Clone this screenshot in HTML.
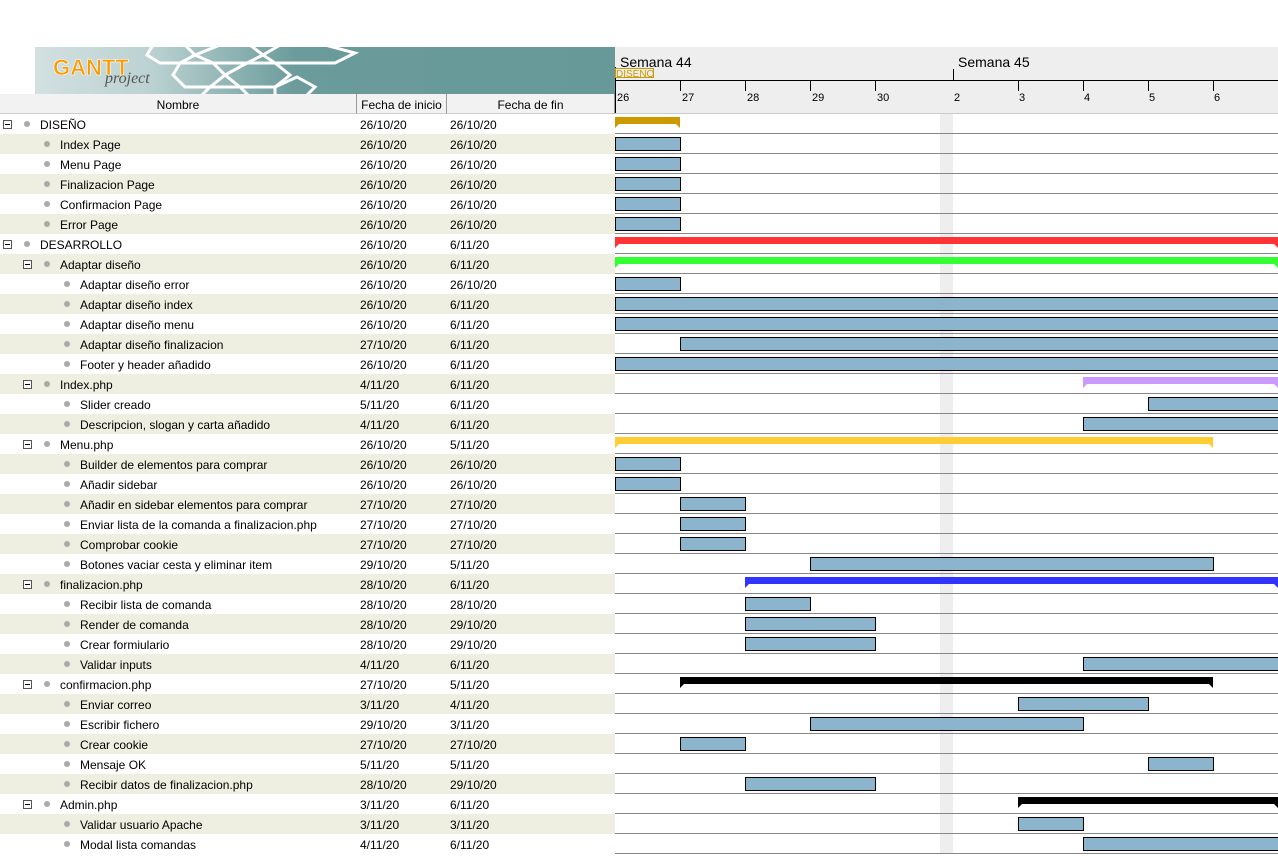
<!DOCTYPE html>
<html><head><meta charset="utf-8"><style>
body{margin:0;width:1278px;height:854px;overflow:hidden;background:#fff;font-family:"Liberation Sans",sans-serif;position:relative}
.r{position:absolute;left:0;width:615px;height:20px;font-size:12px;line-height:22px;color:#000}
.r.b{background:#efefe1}
.r span{position:absolute;white-space:nowrap}
.d1{left:360px}.d2{left:450px}
.ex{position:absolute;top:6px;width:7px;height:7px;border:1px solid #555;background:#fff}
.ex:after{content:"";position:absolute;left:1px;top:3px;width:5px;height:1px;background:#000}
.bu{position:absolute;top:7px;width:6px;height:6px;border-radius:50%;background:#aaa}
.hd{position:absolute;top:94px;height:19px;background:#f2f2f2;border-right:1px solid #999;border-bottom:1px solid #ccc;font-size:12px;line-height:22px;text-align:center}
</style></head><body>
<!-- banner -->
<svg style="position:absolute;left:35px;top:47px" width="580" height="47">
<defs><linearGradient id="g" x1="0" x2="1"><stop offset="0" stop-color="#d2e0e0"/><stop offset="0.2" stop-color="#bcd2d2"/><stop offset="0.45" stop-color="#6b9b9b"/><stop offset="1" stop-color="#679999"/></linearGradient></defs>
<rect width="580" height="47" fill="url(#g)"/>
<g fill="none" stroke="#fff" stroke-width="3">
<polygon points="118,-2 150,-2 160,8 145,16 125,16 112,8"/>
<polygon points="160,8 185,-2 215,-2 228,8 212,16 178,16"/>
<polygon points="228,8 245,-2 290,-2 320,6 300,16 240,16"/>
<polygon points="145,16 178,16 190,28 175,40 150,40 138,28"/>
<polygon points="212,16 240,16 255,28 240,40 205,40 190,28"/>
<polygon points="175,40 205,40 215,50 165,50"/>
<polygon points="240,40 262,30 280,40 270,50 240,50"/>
</g>
<text x="18" y="28" font-family="Liberation Sans" font-weight="bold" font-size="22" fill="#ff9900" stroke="#fff" stroke-width="0.6">GANTT</text>
<text x="70" y="36" font-family="Liberation Serif" font-style="italic" font-size="16" fill="#555">project</text>
</svg>
<div class="hd" style="left:0;width:356px">Nombre</div>
<div class="hd" style="left:357px;width:89px">Fecha de inicio</div>
<div class="hd" style="left:447px;width:167px">Fecha de fin</div>
<!-- chart header -->
<svg style="position:absolute;left:615px;top:47px" width="663" height="67">
<rect width="663" height="67" fill="#eeeeee"/>
<line x1="0" y1="33.5" x2="663" y2="33.5" stroke="#000"/>
<line x1="0.5" y1="20" x2="0.5" y2="67" stroke="#000"/>
<line x1="338.5" y1="22" x2="338.5" y2="33" stroke="#000"/>
<g stroke="#000"><line x1="65.5" y1="34" x2="65.5" y2="44"/><line x1="130.5" y1="34" x2="130.5" y2="44"/><line x1="195.5" y1="34" x2="195.5" y2="44"/><line x1="260.5" y1="34" x2="260.5" y2="44"/><line x1="403.5" y1="34" x2="403.5" y2="44"/><line x1="468.5" y1="34" x2="468.5" y2="44"/><line x1="533.5" y1="34" x2="533.5" y2="44"/><line x1="598.5" y1="34" x2="598.5" y2="44"/></g>
<line x1="0" y1="66.5" x2="663" y2="66.5" stroke="#ccc"/>
<g font-family="Liberation Sans" font-size="14"><text x="5" y="20">Semana 44</text><text x="343" y="20">Semana 45</text></g>
<rect x="0.5" y="21.5" width="38" height="9" fill="none" stroke="#cc9900"/>
<text x="1" y="30" font-family="Liberation Sans" font-size="10" fill="#cc9900">DISEÑO</text>
<g font-family="Liberation Sans" font-size="11"><text x="2" y="54">26</text><text x="67" y="54">27</text><text x="132" y="54">28</text><text x="197" y="54">29</text><text x="262" y="54">30</text><text x="339" y="54">2</text><text x="404" y="54">3</text><text x="469" y="54">4</text><text x="534" y="54">5</text><text x="599" y="54">6</text></g>
</svg>
<!-- chart body -->
<svg style="position:absolute;left:615px;top:114px" width="663" height="740">
<rect x="325" y="0" width="13" height="740" fill="#eeeeee"/>
<g stroke="#888">
<line x1="0" x2="663" y1="19.5" y2="19.5"/><line x1="0" x2="663" y1="39.5" y2="39.5"/><line x1="0" x2="663" y1="59.5" y2="59.5"/><line x1="0" x2="663" y1="79.5" y2="79.5"/><line x1="0" x2="663" y1="99.5" y2="99.5"/><line x1="0" x2="663" y1="119.5" y2="119.5"/><line x1="0" x2="663" y1="139.5" y2="139.5"/><line x1="0" x2="663" y1="159.5" y2="159.5"/><line x1="0" x2="663" y1="179.5" y2="179.5"/><line x1="0" x2="663" y1="199.5" y2="199.5"/><line x1="0" x2="663" y1="219.5" y2="219.5"/><line x1="0" x2="663" y1="239.5" y2="239.5"/><line x1="0" x2="663" y1="259.5" y2="259.5"/><line x1="0" x2="663" y1="279.5" y2="279.5"/><line x1="0" x2="663" y1="299.5" y2="299.5"/><line x1="0" x2="663" y1="319.5" y2="319.5"/><line x1="0" x2="663" y1="339.5" y2="339.5"/><line x1="0" x2="663" y1="359.5" y2="359.5"/><line x1="0" x2="663" y1="379.5" y2="379.5"/><line x1="0" x2="663" y1="399.5" y2="399.5"/><line x1="0" x2="663" y1="419.5" y2="419.5"/><line x1="0" x2="663" y1="439.5" y2="439.5"/><line x1="0" x2="663" y1="459.5" y2="459.5"/><line x1="0" x2="663" y1="479.5" y2="479.5"/><line x1="0" x2="663" y1="499.5" y2="499.5"/><line x1="0" x2="663" y1="519.5" y2="519.5"/><line x1="0" x2="663" y1="539.5" y2="539.5"/><line x1="0" x2="663" y1="559.5" y2="559.5"/><line x1="0" x2="663" y1="579.5" y2="579.5"/><line x1="0" x2="663" y1="599.5" y2="599.5"/><line x1="0" x2="663" y1="619.5" y2="619.5"/><line x1="0" x2="663" y1="639.5" y2="639.5"/><line x1="0" x2="663" y1="659.5" y2="659.5"/><line x1="0" x2="663" y1="679.5" y2="679.5"/><line x1="0" x2="663" y1="699.5" y2="699.5"/><line x1="0" x2="663" y1="719.5" y2="719.5"/><line x1="0" x2="663" y1="739.5" y2="739.5"/>
</g>
<polygon fill="#cc9900" points="0,3 65,3 65,14 61,10 4,10 0,14"/>
<polygon fill="#ff3333" points="0,123 663,123 663,134 659,130 4,130 0,134"/>
<polygon fill="#33ff33" points="0,143 663,143 663,154 659,150 4,150 0,154"/>
<polygon fill="#cc99ff" points="468,263 663,263 663,274 659,270 472,270 468,274"/>
<polygon fill="#ffcc33" points="0,323 598,323 598,334 594,330 4,330 0,334"/>
<polygon fill="#3333ff" points="130,463 663,463 663,474 659,470 134,470 130,474"/>
<polygon fill="#000" points="65,563 598,563 598,574 594,570 69,570 65,574"/>
<polygon fill="#000" points="403,683 663,683 663,694 659,690 407,690 403,694"/>
<g fill="#8cb4cc" stroke="#000">
<rect x="0.5" y="23.5" width="65" height="13"/><rect x="0.5" y="43.5" width="65" height="13"/><rect x="0.5" y="63.5" width="65" height="13"/><rect x="0.5" y="83.5" width="65" height="13"/><rect x="0.5" y="103.5" width="65" height="13"/>
<rect x="0.5" y="163.5" width="65" height="13"/>
<rect x="0.5" y="183.5" width="670" height="13"/><rect x="0.5" y="203.5" width="670" height="13"/><rect x="65.5" y="223.5" width="610" height="13"/><rect x="0.5" y="243.5" width="670" height="13"/>
<rect x="533.5" y="283.5" width="140" height="13"/><rect x="468.5" y="303.5" width="200" height="13"/>
<rect x="0.5" y="343.5" width="65" height="13"/><rect x="0.5" y="363.5" width="65" height="13"/><rect x="65.5" y="383.5" width="65" height="13"/><rect x="65.5" y="403.5" width="65" height="13"/><rect x="65.5" y="423.5" width="65" height="13"/><rect x="195.5" y="443.5" width="403" height="13"/>
<rect x="130.5" y="483.5" width="65" height="13"/><rect x="130.5" y="503.5" width="130" height="13"/><rect x="130.5" y="523.5" width="130" height="13"/><rect x="468.5" y="543.5" width="200" height="13"/>
<rect x="403.5" y="583.5" width="130" height="13"/><rect x="195.5" y="603.5" width="273" height="13"/><rect x="65.5" y="623.5" width="65" height="13"/><rect x="533.5" y="643.5" width="65" height="13"/><rect x="130.5" y="663.5" width="130" height="13"/>
<rect x="403.5" y="703.5" width="65" height="13"/><rect x="468.5" y="723.5" width="200" height="13"/>
</g>
</svg>
<!-- rows -->
<div class="r" style="top:114px"><i class="ex" style="left:3px"></i><i class="bu" style="left:24px"></i><span style="left:40px">DISEÑO</span><span class="d1">26/10/20</span><span class="d2">26/10/20</span></div>
<div class="r b" style="top:134px"><i class="bu" style="left:44px"></i><span style="left:60px">Index Page</span><span class="d1">26/10/20</span><span class="d2">26/10/20</span></div>
<div class="r" style="top:154px"><i class="bu" style="left:44px"></i><span style="left:60px">Menu Page</span><span class="d1">26/10/20</span><span class="d2">26/10/20</span></div>
<div class="r b" style="top:174px"><i class="bu" style="left:44px"></i><span style="left:60px">Finalizacion Page</span><span class="d1">26/10/20</span><span class="d2">26/10/20</span></div>
<div class="r" style="top:194px"><i class="bu" style="left:44px"></i><span style="left:60px">Confirmacion Page</span><span class="d1">26/10/20</span><span class="d2">26/10/20</span></div>
<div class="r b" style="top:214px"><i class="bu" style="left:44px"></i><span style="left:60px">Error Page</span><span class="d1">26/10/20</span><span class="d2">26/10/20</span></div>
<div class="r" style="top:234px"><i class="ex" style="left:3px"></i><i class="bu" style="left:24px"></i><span style="left:40px">DESARROLLO</span><span class="d1">26/10/20</span><span class="d2">6/11/20</span></div>
<div class="r b" style="top:254px"><i class="ex" style="left:23px"></i><i class="bu" style="left:44px"></i><span style="left:60px">Adaptar diseño</span><span class="d1">26/10/20</span><span class="d2">6/11/20</span></div>
<div class="r" style="top:274px"><i class="bu" style="left:64px"></i><span style="left:80px">Adaptar diseño error</span><span class="d1">26/10/20</span><span class="d2">26/10/20</span></div>
<div class="r b" style="top:294px"><i class="bu" style="left:64px"></i><span style="left:80px">Adaptar diseño index</span><span class="d1">26/10/20</span><span class="d2">6/11/20</span></div>
<div class="r" style="top:314px"><i class="bu" style="left:64px"></i><span style="left:80px">Adaptar diseño menu</span><span class="d1">26/10/20</span><span class="d2">6/11/20</span></div>
<div class="r b" style="top:334px"><i class="bu" style="left:64px"></i><span style="left:80px">Adaptar diseño finalizacion</span><span class="d1">27/10/20</span><span class="d2">6/11/20</span></div>
<div class="r" style="top:354px"><i class="bu" style="left:64px"></i><span style="left:80px">Footer y header añadido</span><span class="d1">26/10/20</span><span class="d2">6/11/20</span></div>
<div class="r b" style="top:374px"><i class="ex" style="left:23px"></i><i class="bu" style="left:44px"></i><span style="left:60px">Index.php</span><span class="d1">4/11/20</span><span class="d2">6/11/20</span></div>
<div class="r" style="top:394px"><i class="bu" style="left:64px"></i><span style="left:80px">Slider creado</span><span class="d1">5/11/20</span><span class="d2">6/11/20</span></div>
<div class="r b" style="top:414px"><i class="bu" style="left:64px"></i><span style="left:80px">Descripcion, slogan y carta añadido</span><span class="d1">4/11/20</span><span class="d2">6/11/20</span></div>
<div class="r" style="top:434px"><i class="ex" style="left:23px"></i><i class="bu" style="left:44px"></i><span style="left:60px">Menu.php</span><span class="d1">26/10/20</span><span class="d2">5/11/20</span></div>
<div class="r b" style="top:454px"><i class="bu" style="left:64px"></i><span style="left:80px">Builder de elementos para comprar</span><span class="d1">26/10/20</span><span class="d2">26/10/20</span></div>
<div class="r" style="top:474px"><i class="bu" style="left:64px"></i><span style="left:80px">Añadir sidebar</span><span class="d1">26/10/20</span><span class="d2">26/10/20</span></div>
<div class="r b" style="top:494px"><i class="bu" style="left:64px"></i><span style="left:80px">Añadir en sidebar elementos para comprar</span><span class="d1">27/10/20</span><span class="d2">27/10/20</span></div>
<div class="r" style="top:514px"><i class="bu" style="left:64px"></i><span style="left:80px">Enviar lista de la comanda a finalizacion.php</span><span class="d1">27/10/20</span><span class="d2">27/10/20</span></div>
<div class="r b" style="top:534px"><i class="bu" style="left:64px"></i><span style="left:80px">Comprobar cookie</span><span class="d1">27/10/20</span><span class="d2">27/10/20</span></div>
<div class="r" style="top:554px"><i class="bu" style="left:64px"></i><span style="left:80px">Botones vaciar cesta y eliminar item</span><span class="d1">29/10/20</span><span class="d2">5/11/20</span></div>
<div class="r b" style="top:574px"><i class="ex" style="left:23px"></i><i class="bu" style="left:44px"></i><span style="left:60px">finalizacion.php</span><span class="d1">28/10/20</span><span class="d2">6/11/20</span></div>
<div class="r" style="top:594px"><i class="bu" style="left:64px"></i><span style="left:80px">Recibir lista de comanda</span><span class="d1">28/10/20</span><span class="d2">28/10/20</span></div>
<div class="r b" style="top:614px"><i class="bu" style="left:64px"></i><span style="left:80px">Render de comanda</span><span class="d1">28/10/20</span><span class="d2">29/10/20</span></div>
<div class="r" style="top:634px"><i class="bu" style="left:64px"></i><span style="left:80px">Crear formiulario</span><span class="d1">28/10/20</span><span class="d2">29/10/20</span></div>
<div class="r b" style="top:654px"><i class="bu" style="left:64px"></i><span style="left:80px">Validar inputs</span><span class="d1">4/11/20</span><span class="d2">6/11/20</span></div>
<div class="r" style="top:674px"><i class="ex" style="left:23px"></i><i class="bu" style="left:44px"></i><span style="left:60px">confirmacion.php</span><span class="d1">27/10/20</span><span class="d2">5/11/20</span></div>
<div class="r b" style="top:694px"><i class="bu" style="left:64px"></i><span style="left:80px">Enviar correo</span><span class="d1">3/11/20</span><span class="d2">4/11/20</span></div>
<div class="r" style="top:714px"><i class="bu" style="left:64px"></i><span style="left:80px">Escribir fichero</span><span class="d1">29/10/20</span><span class="d2">3/11/20</span></div>
<div class="r b" style="top:734px"><i class="bu" style="left:64px"></i><span style="left:80px">Crear cookie</span><span class="d1">27/10/20</span><span class="d2">27/10/20</span></div>
<div class="r" style="top:754px"><i class="bu" style="left:64px"></i><span style="left:80px">Mensaje OK</span><span class="d1">5/11/20</span><span class="d2">5/11/20</span></div>
<div class="r b" style="top:774px"><i class="bu" style="left:64px"></i><span style="left:80px">Recibir datos de finalizacion.php</span><span class="d1">28/10/20</span><span class="d2">29/10/20</span></div>
<div class="r" style="top:794px"><i class="ex" style="left:23px"></i><i class="bu" style="left:44px"></i><span style="left:60px">Admin.php</span><span class="d1">3/11/20</span><span class="d2">6/11/20</span></div>
<div class="r b" style="top:814px"><i class="bu" style="left:64px"></i><span style="left:80px">Validar usuario Apache</span><span class="d1">3/11/20</span><span class="d2">3/11/20</span></div>
<div class="r" style="top:834px"><i class="bu" style="left:64px"></i><span style="left:80px">Modal lista comandas</span><span class="d1">4/11/20</span><span class="d2">6/11/20</span></div>
</body></html>
